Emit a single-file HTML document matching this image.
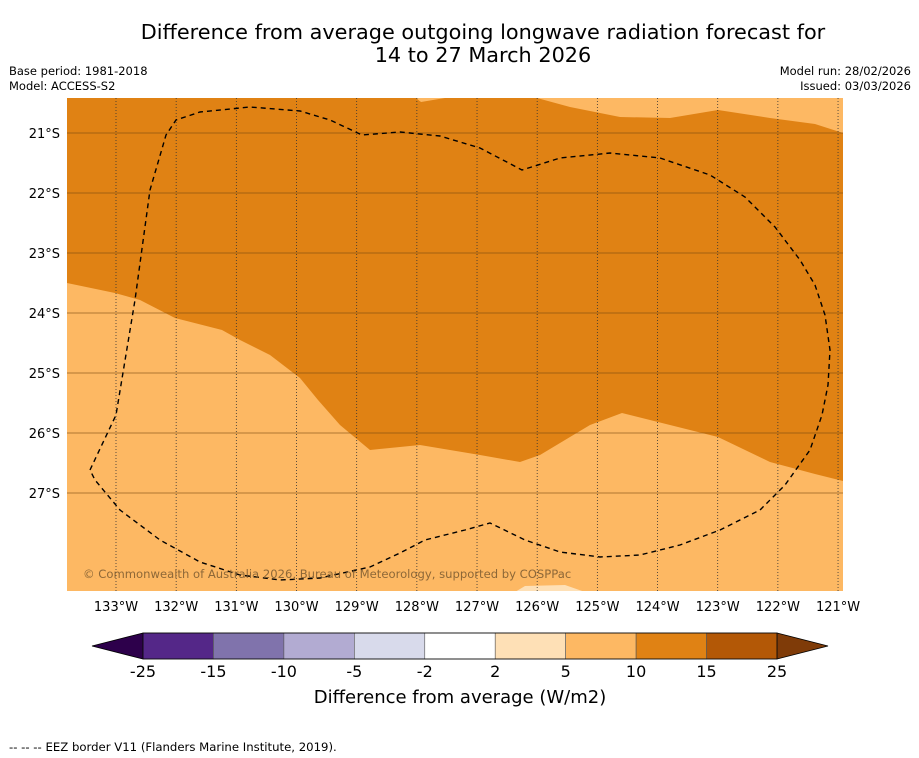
<!DOCTYPE html>
<html><head><meta charset="utf-8"><style>
body{margin:0;width:919px;height:758px;background:#fff;overflow:hidden;font-family:"DejaVu Sans","Liberation Sans",sans-serif;}
svg{display:block}
</style></head><body>
<svg id="chart" width="919" height="758" font-family="DejaVu Sans, Liberation Sans, sans-serif">
<text x="483" y="39" font-size="20.8" text-anchor="middle">Difference from average outgoing longwave radiation forecast for</text>
<text x="483" y="62" font-size="20.8" text-anchor="middle">14 to 27 March 2026</text>
<text x="9" y="75" font-size="11.5">Base period: 1981-2018</text>
<text x="9" y="90" font-size="11.5">Model: ACCESS-S2</text>
<text x="911" y="75" font-size="11.5" text-anchor="end">Model run: 28/02/2026</text>
<text x="911" y="90" font-size="11.5" text-anchor="end">Issued: 03/03/2026</text>
<defs><clipPath id="mc"><rect x="67" y="98" width="776" height="493"/></clipPath></defs>
<g id="map" clip-path="url(#mc)">
<rect x="67" y="98" width="776" height="493" fill="#fdb863"/>
<polygon fill="#e08214" points="67,98 416,98 421,102 445,98 537,98 570,107 620,117 670,118 718,110 770,118 815,124 843,133 843,481 815,474 770,462 718,437 670,425 622,413 590,425 540,455 520,462 480,455 420,445 370,450 340,425 318,400 300,378 270,355 240,340 222,330 175,318 140,300 115,293 67,283"/>
<polygon fill="#fee0b6" points="515,592 525,586 565,585 585,592"/>
<g id="grid"></g>
<path fill="none" stroke="#000" stroke-width="1.4" stroke-dasharray="5,4" d="M90,470 L116,415 L135,300 L150,190 L166,135 L176,120 L200,112 L250,107 L300,111 L330,120 L362,135 L400,132 L440,136 L480,148 L522,170 L560,158 L610,153 L660,158 L710,175 L745,197 L775,227 L800,260 L815,285 L825,315 L830,350 L828,385 L822,415 L810,450 L785,485 L760,510 L720,530 L680,545 L640,555 L600,557 L560,552 L525,540 L490,523 L465,530 L425,540 L400,553 L370,567 L320,578 L280,580 L240,575 L200,562 L160,540 L120,510 L95,480 Z"/>
<text x="83" y="578" font-size="11.6" fill="#7a5a30" opacity="0.85">© Commonwealth of Australia 2026, Bureau of Meteorology, supported by COSPPac</text>
</g>
<g id="axes"></g>
<g id="cbar"></g>
<text x="460" y="703" font-size="18" text-anchor="middle">Difference from average (W/m2)</text>
<text x="9" y="751" font-size="11.7">--  --  -- EEZ border V11 (Flanders Marine Institute, 2019).</text>
</svg>
<script>
const lonTicks=[133,132,131,130,129,128,127,126,125,124,123,122,121];
const latTicks=[21,22,23,24,25,26,27];
const levels=[-25,-15,-10,-5,-2,2,5,10,15,25];
const levelColors=['#542788','#8073ac','#b2abd2','#d8daeb','#ffffff','#fee0b6','#fdb863','#e08214','#b35806'];
const NS='http://www.w3.org/2000/svg';
function xLon(l){return 116+(133-l)*60.17;}
function yLat(l){return 133+(l-21)*60;}
function mk(t,a,p){const e=document.createElementNS(NS,t);for(const k in a)e.setAttribute(k,a[k]);p.appendChild(e);return e;}
const grid=document.getElementById('grid'),axes=document.getElementById('axes'),cb=document.getElementById('cbar');
lonTicks.forEach(l=>{const x=xLon(l);
 const g=mk('line',{x1:x,x2:x,y1:98,y2:591,stroke:'#333','stroke-width':0.8,'stroke-dasharray':'1,2'},grid);
 
 
 const t=mk('text',{x:x,y:611,'font-size':13,'text-anchor':'middle'},axes);t.textContent=l+'°W';
 
 
});
latTicks.forEach(l=>{const y=yLat(l);
 const g=mk('line',{x1:67,x2:843,y1:y,y2:y,stroke:'#7a4a10','stroke-width':0.8,opacity:0.8},grid);
 
 
 const t=mk('text',{x:60,y:y+5,'font-size':13,'text-anchor':'end'},axes);t.textContent=l+'°S';
 
 
});
const cx0=143,cx1=777,cy=633,ch=26,step=(cx1-cx0)/levelColors.length;
const lt=mk('polygon',{points:`92,${cy+ch/2} ${cx0},${cy} ${cx0},${cy+ch}`,fill:'#2d004b',stroke:'#000','stroke-width':0.8},cb);


const rt=mk('polygon',{points:`828,${cy+ch/2} ${cx1},${cy} ${cx1},${cy+ch}`,fill:'#7f3b08',stroke:'#000','stroke-width':0.8},cb);


levelColors.forEach((c,i)=>{const r=mk('rect',{x:cx0+i*step,y:cy,width:step,height:ch,fill:c,stroke:'#555','stroke-width':0.6},cb);
 
 });
mk('rect',{x:cx0,y:cy,width:cx1-cx0,height:ch,fill:'none',stroke:'#000','stroke-width':0.8},cb);
levels.forEach((v,i)=>{const t=mk('text',{x:cx0+i*step,y:677,'font-size':16,'text-anchor':'middle'},cb);t.textContent=v;
 
 });
</script>
</body></html>
